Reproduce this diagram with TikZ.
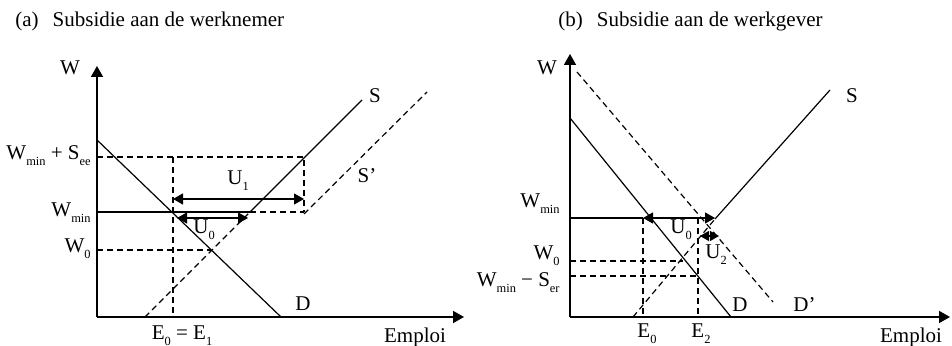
\documentclass[tikz,border=0pt]{standalone}
\usepackage{fontspec}
\setmainfont{Liberation Serif}
\usetikzlibrary{arrows.meta}
\newcommand{\lsub}[1]{\raisebox{-2.6pt}{\fontsize{6.2}{7}\selectfont #1}}

\begin{document}
\begin{tikzpicture}[
    x=0.5pt, y=0.5pt,
    every node/.style={font=\fontsize{10.5}{12}\selectfont, inner sep=0pt},
    curve/.style={line width=0.6pt},
    guide/.style={line width=0.6pt, dash pattern=on 3pt off 2pt},
    axis/.style={line width=0.8pt, -{Triangle[length=5.5pt,width=6pt]}},
    gap/.style={line width=0.6pt, {Triangle[length=5pt,width=5.5pt]}-{Triangle[length=5pt,width=5.5pt]}},
    lab/.style={anchor=base},
    ylab/.style={anchor=base east}
]
\useasboundingbox (0,0) rectangle (952,346);

\node[anchor=base west] (ta) at (15,319) {(a)\hspace{7pt}Subsidie aan de werknemer};
\node[anchor=base west] (tb) at (558,319) {(b)\hspace{7pt}Subsidie aan de werkgever};

% (a) subsidie aan de werknemer
\coordinate (a-o) at (97,29);
\coordinate (a-ytip) at (97,280);
\coordinate (a-xtip) at (464,29);
\coordinate (a-d1) at (97,206);
\coordinate (a-d2) at (281,29);
\coordinate (a-s0) at (145,29);
\coordinate (a-s1) at (250,134);
\coordinate (a-s2) at (362,246);
\coordinate (a-sp1) at (304,132);
\coordinate (a-sp2) at (427,254);
\coordinate (a-wmin) at (97,134);
\coordinate (a-wsee) at (97,189);
\coordinate (a-w0) at (97,96);
\coordinate (a-eq) at (211,96);
\coordinate (a-e0) at (173,29);
\coordinate (a-q0) at (173,189);
\coordinate (a-q1) at (304,189);
\coordinate (a-q2) at (304,134);
\coordinate (a-u1l) at (173,147);
\coordinate (a-u1r) at (304,147);
\coordinate (a-u0l) at (177,128);
\coordinate (a-u0r) at (248,128);

\draw[axis] (a-o) -- (a-ytip);
\draw[axis] (a-o) -- (a-xtip);
\draw[curve] (a-d1) -- (a-d2);
\draw[guide] (a-s0) -- (a-s1);
\draw[curve] (a-s1) -- (a-s2);
\draw[guide] (a-sp1) -- (a-sp2);
\draw[curve] (a-wmin) -- (a-s1);
\draw[guide] (a-s1) -- (a-q2);
\draw[guide] (a-wsee) -- (a-q1) -- (a-q2);
\draw[guide] (a-q0) -- (a-e0);
\draw[guide] (a-w0) -- (a-eq);
\draw[gap] (a-u1l) -- (a-u1r);
\draw[gap] (a-u0l) -- (a-u0r);

\node[lab] (a-lw) at (70,271) {W};
\node[ylab] (a-lwsee) at (91,186) {W\lsub{min} + S\lsub{ee}};
\node[ylab] (a-lwmin) at (91,129) {W\lsub{min}};
\node[ylab] (a-lw0) at (91,93) {W\lsub{0}};
\node[lab] (a-le) at (182,6) {E\lsub{0} = E\lsub{1}};
\node[lab] (a-lx) at (415,3) {Emploi};
\node[lab] (a-ld) at (303,35) {D};
\node[lab] (a-ls) at (375,243) {S};
\node[lab] (a-lsp) at (367,163) {S’};
\node[anchor=base west] (a-lu1) at (227,161) {U\lsub{1}};
\node[anchor=base west] (a-lu0) at (193,112) {U\lsub{0}};

% (b) subsidie aan de werkgever
\coordinate (b-o) at (570,29);
\coordinate (b-ytip) at (570,292);
\coordinate (b-xtip) at (950,29);
\coordinate (b-d1) at (570,228);
\coordinate (b-d2) at (731,29);
\coordinate (b-dp1) at (577,274);
\coordinate (b-dp2) at (773,44);
\coordinate (b-s0) at (633,29);
\coordinate (b-s1) at (715,127);
\coordinate (b-s2) at (830,256);
\coordinate (b-wmin) at (570,128);
\coordinate (b-wkink) at (715,128);
\coordinate (b-w0) at (570,85);
\coordinate (b-eq) at (683,85);
\coordinate (b-wser) at (570,70);
\coordinate (b-q2) at (698,70);
\coordinate (b-e0top) at (643,128);
\coordinate (b-e0) at (643,29);
\coordinate (b-e2top) at (698,128);
\coordinate (b-e2) at (698,29);
\coordinate (b-u2l) at (700,110);
\coordinate (b-u2r) at (719,110);

\draw[axis] (b-o) -- (b-ytip);
\draw[axis] (b-o) -- (b-xtip);
\draw[curve] (b-d1) -- (b-d2);
\draw[guide] (b-dp1) -- (b-dp2);
\draw[guide] (b-s0) -- (b-s1);
\draw[curve] (b-s1) -- (b-s2);
\draw[curve] (b-wmin) -- (b-e0top);
\draw[gap] (b-e0top) -- (b-wkink);
\draw[guide] (b-e0top) -- (b-e0);
\draw[guide] (b-e2top) -- (b-e2);
\draw[guide] (b-w0) -- (b-eq);
\draw[guide] (b-wser) -- (b-q2);
\draw[line width=0.6pt, {Triangle[length=4.5pt,width=5pt]}-{Triangle[length=4.5pt,width=5pt]}] (b-u2l) -- (b-u2r);

\node[lab] (b-lw) at (547,271) {W};
\node[ylab] (b-lwmin) at (560,138) {W\lsub{min}};
\node[ylab] (b-lw0) at (560,86) {W\lsub{0}};
\node[ylab] (b-lwser) at (560,59) {W\lsub{min} − S\lsub{er}};
\node[lab] (b-le0) at (647,8) {E\lsub{0}};
\node[lab] (b-le2) at (701,8) {E\lsub{2}};
\node[lab] (b-lx) at (911,3) {Emploi};
\node[lab] (b-ld) at (740,34) {D};
\node[anchor=base west] (b-ldp) at (793,34) {D’};
\node[lab] (b-ls) at (852,243) {S};
\node[anchor=base west] (b-lu0) at (670,112) {U\lsub{0}};
\node[anchor=base west] (b-lu2) at (705,87) {U\lsub{2}};
\end{tikzpicture}
\end{document}
